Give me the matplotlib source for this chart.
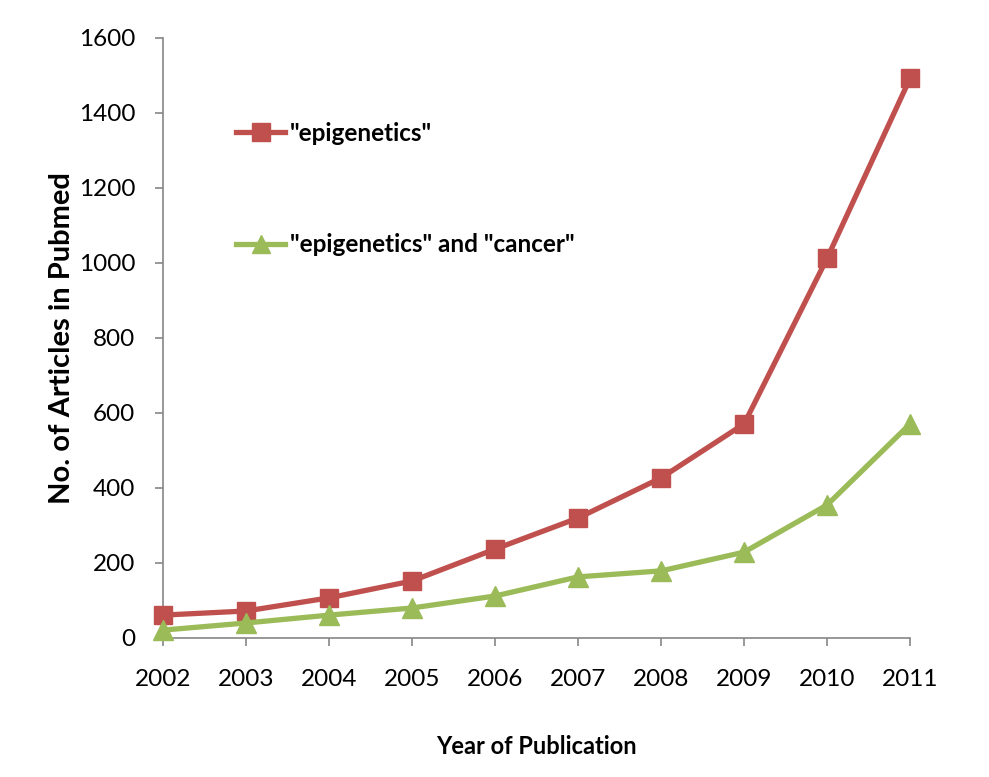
import matplotlib.pyplot as plt

years = [2002, 2003, 2004, 2005, 2006, 2007, 2008, 2009, 2010, 2011]
epigenetics = [61, 72, 107, 152, 237, 320, 427, 571, 1013, 1493]
epi_cancer = [21, 40, 61, 80, 112, 163, 179, 229, 355, 571]
yticks = [0, 200, 400, 600, 800, 1000, 1200, 1400, 1600]

plt.rcParams['font.family'] = ['Lato', 'DejaVu Sans']

red = '#C0504D'
green = '#9BBB59'
grey = '#868686'

fig = plt.figure(figsize=(9.89, 7.77), dpi=100)
ax = fig.add_axes([0.1648, 0.1789, 0.7555, 0.7722])

ax.plot(years, epigenetics, color=red, lw=3.8, marker='s', markersize=13,
        label='"epigenetics"', clip_on=False, zorder=3)
ax.plot(years, epi_cancer, color=green, lw=3.8, marker='^', markersize=14,
        label='"epigenetics" and "cancer"', clip_on=False, zorder=3)

ax.set_xlim(2002, 2011)
ax.set_ylim(0, 1600)
ax.set_xticks(years)
ax.set_yticks(yticks)
ax.tick_params(axis='both', colors=grey, labelcolor='black', labelsize=17.5,
               length=6, width=1.2, direction='out')
ax.tick_params(axis='x', pad=16)
ax.tick_params(axis='y', pad=14)
for s in ['top', 'right']:
    ax.spines[s].set_visible(False)
for s in ['left', 'bottom']:
    ax.spines[s].set_color(grey)
    ax.spines[s].set_linewidth(1.2)

ax.set_xlabel('Year of Publication', fontsize=17, fontweight='bold', labelpad=33)
ax.set_ylabel('No. of Articles in Pubmed', fontsize=21, fontweight='bold', labelpad=3)

leg = ax.legend(loc='upper left', bbox_to_anchor=(0.069, 0.897), frameon=False,
                prop={'size': 17.5, 'weight': 'bold'}, labelspacing=3.65,
                handlelength=2.0, handletextpad=0.2, markerscale=0.95)

fig.savefig('out.png', dpi=100)
